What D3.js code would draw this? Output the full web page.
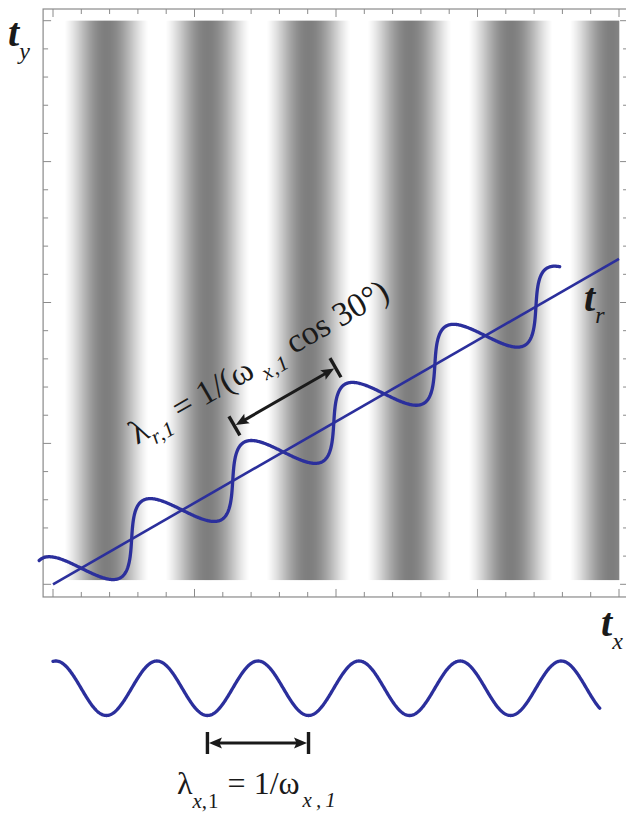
<!DOCTYPE html>
<html>
<head>
<meta charset="utf-8">
<script src="https://cdn.jsdelivr.net/npm/d3@7"></script>
<style>
  html, body { margin: 0; padding: 0; background: #ffffff; }
  svg { display: block; }
  .serif { font-family: "Liberation Serif", "DejaVu Serif", serif; }
</style>
</head>
<body>
<svg id="chart" width="626" height="814"></svg>
<script>
// ---- signal parameters: stripe intensity = cos(2π ω (t_x − φ)) ----
const omegaX = 1.4;          // cycles per unit of t_x
const phaseX = 0.02;         // t_x of the first bright stripe
const tiltDeg = 30;          // direction of the t_r axis
const rAmplitude = 0.198;    // amplitude of the profile drawn along t_r (t units)
const rCurveEnd = 4.23;      // extent of that profile along t_r
const rLineEnd = 4.6188;     // extent of the t_r axis (reaches t_x = 4)
const rArrowCrests = [2, 3]; // bright stripes spanned by the λ_r arrow
const rArrowOffset = 0.333;  // distance of the λ_r arrow from the t_r axis
const xWaveEnd = 3.866;      // extent of the 1-D profile under the plot
const xArrowTroughs = [1, 2];// troughs spanned by the λ_x arrow

// ---- axes ----
const xDomain = [0, 4];
const yDomain = [0, 4];
const majorTicks = [0, 1, 2, 3, 4];
const minorTicks = [0.2, 0.4, 0.6, 0.8, 1.2, 1.4, 1.6, 1.8, 2.2, 2.4, 2.6, 2.8,
                    3.2, 3.4, 3.6, 3.8];
const frameX = [-0.07, 4.064];
const frameY = [-0.09, 4.083];
const imageY = [0.03, 4];

const blue = "#2b2f9c";
const ink = "#1a1a1a";
const frameGray = "#8a8a8a";

const svg = d3.select("#chart");
const x = d3.scaleLinear().domain(xDomain).range([53, 619]);
const y = d3.scaleLinear().domain(yDomain).range([584.3, 20.7]);

// grey level for an intensity value in [-1, 1]; saturates to white near the crests
const grey = d3.scaleLinear().domain([-1, 0.857, 1]).range(["#7e7e7e", "#ffffff", "#ffffff"]);
const stripe = tx => Math.cos(2 * Math.PI * omegaX * (tx - phaseX));

// ---- density image, one column per pixel ----
const px0 = Math.round(x(xDomain[0])), px1 = Math.round(x(xDomain[1]));
const columns = d3.range(px0, px1).map(p => ({ p, v: stripe(x.invert(p + 0.5)) }));
svg.append("g").selectAll("rect").data(columns).join("rect")
  .attr("x", d => d.p)
  .attr("y", y(imageY[1]))
  .attr("width", 1.3)
  .attr("height", y(imageY[0]) - y(imageY[1]))
  .attr("fill", d => grey(d.v));

// ---- frame with inward ticks on all four sides ----
const fx0 = x(frameX[0]), fx1 = x(frameX[1]), fy0 = y(frameY[0]), fy1 = y(frameY[1]);
const frame = svg.append("g").attr("stroke", frameGray).attr("fill", "none");
frame.append("rect").attr("x", fx0).attr("y", fy1)
  .attr("width", fx1 - fx0).attr("height", fy0 - fy1).attr("stroke-width", 1.2);
const ticks = majorTicks.map(v => ({ v, len: 8 })).concat(minorTicks.map(v => ({ v, len: 5 })));
ticks.forEach(t => {
  frame.append("line").attr("x1", x(t.v)).attr("x2", x(t.v)).attr("y1", fy1).attr("y2", fy1 + t.len);
  frame.append("line").attr("x1", x(t.v)).attr("x2", x(t.v)).attr("y1", fy0).attr("y2", fy0 - t.len);
  frame.append("line").attr("y1", y(t.v)).attr("y2", y(t.v)).attr("x1", fx0).attr("x2", fx0 + t.len);
  frame.append("line").attr("y1", y(t.v)).attr("y2", y(t.v)).attr("x1", fx1).attr("x2", fx1 - t.len);
});

// ---- t_r axis and the stripe profile along it ----
const th = tiltDeg * Math.PI / 180;
const u = [Math.cos(th), Math.sin(th)];    // along t_r
const n = [-Math.sin(th), Math.cos(th)];   // normal to t_r
const onAxis = s => [s * u[0], s * u[1]];

svg.append("line")
  .attr("x1", x(0)).attr("y1", y(0))
  .attr("x2", x(rLineEnd * u[0])).attr("y2", y(rLineEnd * u[1]))
  .attr("stroke", blue).attr("stroke-width", 2.6);

const rSamples = d3.range(0, rCurveEnd + 1e-9, 0.004).map(s => {
  const [ax, ay] = onAxis(s);
  const c = stripe(ax);
  return [ax + rAmplitude * c * n[0], ay + rAmplitude * c * n[1]];
});
svg.append("path")
  .attr("d", d3.line().x(d => x(d[0])).y(d => y(d[1]))(rSamples))
  .attr("fill", "none").attr("stroke", blue).attr("stroke-width", 3.3)
  .attr("stroke-linecap", "round").attr("stroke-linejoin", "round");

// ---- double arrow with end bars ----
function dimension(g, p0, p1, barLen) {
  const dx = p1[0] - p0[0], dy = p1[1] - p0[1];
  const L = Math.hypot(dx, dy), ux = dx / L, uy = dy / L, nx = -uy, ny = ux;
  const head = 13, half = 5.5;
  g.append("line")
    .attr("x1", p0[0] + ux * (head - 2)).attr("y1", p0[1] + uy * (head - 2))
    .attr("x2", p1[0] - ux * (head - 2)).attr("y2", p1[1] - uy * (head - 2))
    .attr("stroke", ink).attr("stroke-width", 3);
  [[p0, 1], [p1, -1]].forEach(([p, sgn]) => {
    const tip = [p[0] + ux * sgn * 1.5, p[1] + uy * sgn * 1.5];
    const base = [tip[0] + ux * sgn * head, tip[1] + uy * sgn * head];
    g.append("path")
      .attr("d", `M${tip[0]},${tip[1]} L${base[0] + nx * half},${base[1] + ny * half} ` +
                 `L${base[0] - ux * sgn * 2.5},${base[1] - uy * sgn * 2.5} ` +
                 `L${base[0] - nx * half},${base[1] - ny * half}Z`)
      .attr("fill", ink);
    g.append("line")
      .attr("x1", p[0] + nx * barLen / 2).attr("y1", p[1] + ny * barLen / 2)
      .attr("x2", p[0] - nx * barLen / 2).attr("y2", p[1] - ny * barLen / 2)
      .attr("stroke", ink).attr("stroke-width", 3.4);
  });
}

const crestS = rArrowCrests.map(k => (phaseX + k / omegaX) / u[0]);
const arrowR = crestS.map(s => {
  const [ax, ay] = onAxis(s);
  return [x(ax + rArrowOffset * n[0]), y(ay + rArrowOffset * n[1])];
});
dimension(svg.append("g"), arrowR[0], arrowR[1], 22);

// ---- 1-D profile along t_x ----
const waveY = d3.scaleLinear().domain([-1, 1]).range([715.5, 661]);
const xSamples = d3.range(0, xWaveEnd + 1e-9, 0.004).map(tx => [tx, stripe(tx)]);
svg.append("path")
  .attr("d", d3.line().x(d => x(d[0])).y(d => waveY(d[1]))(xSamples))
  .attr("fill", "none").attr("stroke", blue).attr("stroke-width", 3.3)
  .attr("stroke-linecap", "round");

const troughX = xArrowTroughs.map(k => x(phaseX + (k + 0.5) / omegaX));
dimension(svg.append("g"), [troughX[0], 743], [troughX[1], 743], 22);

// ---- labels ----
function axisLabel(px, py, sub, subDy) {
  const t = svg.append("text").attr("class", "serif").attr("x", px).attr("y", py).attr("fill", ink);
  t.append("tspan").text("t").attr("font-size", 40).attr("font-weight", "bold").attr("font-style", "italic");
  t.append("tspan").text(sub).attr("font-size", 24).attr("font-style", "italic")
    .attr("dx", 0).attr("dy", subDy);
}
axisLabel(8, 46, "y", 13);
axisLabel(601, 636, "x", 13);
axisLabel(584, 311, "r", 12);

// rotated λ_r label
const lr = svg.append("text").attr("class", "serif")
  .attr("transform", `translate(137,445) rotate(${-tiltDeg})`)
  .attr("fill", ink).attr("font-size", 34);
lr.append("tspan").text("λ");
lr.append("tspan").text("r,1").attr("font-size", 21).attr("font-style", "italic")
  .attr("dy", 9).attr("letter-spacing", 1);
lr.append("tspan").text(" = 1/(ω").attr("dy", -9);
lr.append("tspan").text("x,1").attr("font-size", 21).attr("font-style", "italic")
  .attr("dx", 7).attr("dy", 9).attr("letter-spacing", 1);
lr.append("tspan").text(" cos 30°)").attr("dy", -9);

// λ_x label
const lx = svg.append("text").attr("class", "serif").attr("x", 177).attr("y", 794)
  .attr("fill", ink).attr("font-size", 32);
lx.append("tspan").text("λ");
lx.append("tspan").text("x").attr("font-size", 21).attr("font-style", "italic").attr("dy", 14);
lx.append("tspan").text(",1").attr("font-size", 21).attr("letter-spacing", 1);
lx.append("tspan").text(" = 1/ω").attr("dy", -14);
lx.append("tspan").text("x,1").attr("font-size", 21).attr("font-style", "italic")
  .attr("dx", 3).attr("dy", 13).attr("letter-spacing", 4);
</script>
</body>
</html>
